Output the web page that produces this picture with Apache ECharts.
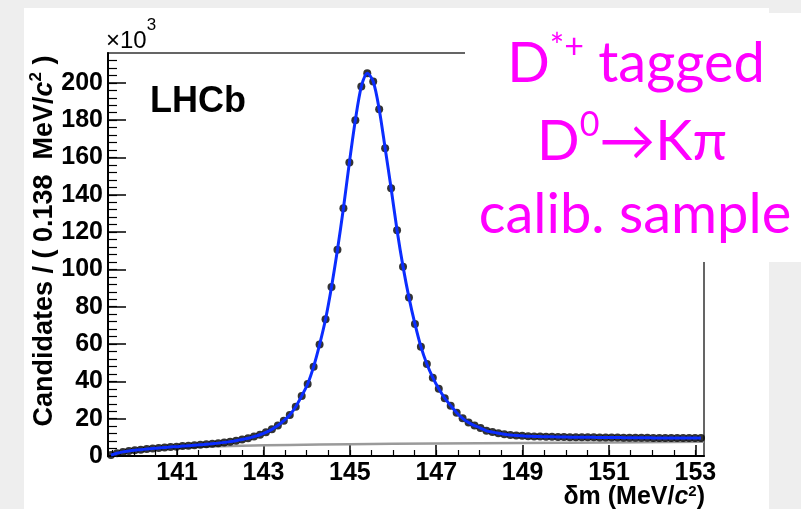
<!DOCTYPE html>
<html>
<head>
<meta charset="utf-8">
<script src="https://cdn.jsdelivr.net/npm/echarts@6/dist/echarts.min.js"></script>
<style>
  html, body { margin: 0; padding: 0; background: #eeeeee; }
  #panel { position: absolute; left: 24px; top: 8px; width: 745px; height: 501px; background: #fff; }
  #main { position: absolute; left: 0; top: 0; width: 801px; height: 509px; }
</style>
</head>
<body>
<div id="panel"></div>
<div id="main"></div>
<script>
// binning of the delta-m histogram (MeV/c^2)
const binLow = 139.4;
const binWidth = 0.138;

// candidates per bin, x10^3
const counts = [
  0.5, 1.5, 2.2, 2.7, 3.1, 3.4, 3.7, 4.0, 4.3, 4.5,
  4.8, 5.0, 5.3, 5.5, 5.8, 6.0, 6.3, 6.6, 6.9, 7.3,
  7.7, 8.2, 8.8, 9.5, 10.4, 11.4, 12.7, 14.3, 16.3, 18.9,
  22.0, 26.4, 32.2, 38.6, 47.9, 59.7, 73.3, 90.6, 110.5, 132.8,
  157.3, 180.0, 198.0, 205.2, 200.7, 185.9, 165.0, 143.5, 121.0, 101.5,
  84.9, 70.8, 58.6, 49.3, 42.0, 36.0, 31.0, 27.0, 23.2, 20.2,
  18.0, 16.3, 15.0, 13.5, 12.8, 12.2, 11.7, 11.3, 11.0, 10.8,
  10.6, 10.5, 10.4, 10.3, 10.3, 10.2, 10.2, 10.1, 10.1, 10.0,
  10.0, 10.0, 9.9, 9.9, 9.9, 9.9, 9.8, 9.8, 9.8, 9.8,
  9.8, 9.7, 9.7, 9.7, 9.7, 9.7, 9.7, 9.6, 9.6, 9.6
];

// background component of the fit
const bgMass  = [139.57, 139.65, 139.8, 140.1, 140.6, 141.5, 142.5, 143.6, 145.0, 147.0, 149.0, 151.0, 153.2];
const bgLevel = [0.0, 1.6, 2.7, 3.5, 4.2, 4.9, 5.5, 5.9, 6.3, 6.7, 7.0, 7.3, 7.6];

const xMajorTicks = [141, 143, 145, 147, 149, 151, 153];
const yMajorTicks = [0, 20, 40, 60, 80, 100, 120, 140, 160, 180, 200];

const xMinorTicks = [];
for (let v = 139.5; v <= 153.01; v += 0.5) xMinorTicks.push(+v.toFixed(1));
const yMinorTicks = [];
for (let v = 4; v <= 214; v += 4) yMinorTicks.push(v);

const points = counts.map((c, i) => [binLow + (i + 0.5) * binWidth, c]);
const bgLine = bgMass.map((m, i) => [m, bgLevel[i]]);

const chart = echarts.init(document.getElementById('main'), null, {renderer: 'canvas'});

const bold = {fontFamily: 'Liberation Sans', fontWeight: 'bold', color: '#000'};
const magenta = '#ff00ff';

const option = {
  animation: false,
  backgroundColor: 'transparent',
  grid: {left: 108, top: 53, right: 97, bottom: 53, show: true, borderColor: '#333', borderWidth: 1.5},
  xAxis: [
    {
      type: 'value', min: 139.4, max: 153.2,
      axisLine: {onZero: false, lineStyle: {color: '#000', width: 2}},
      axisTick: {inside: true, length: 11, customValues: xMajorTicks, lineStyle: {color: '#000', width: 1.5}},
      axisLabel: Object.assign({customValues: xMajorTicks, fontSize: 25, margin: 5}, bold),
      splitLine: {show: false}
    },
    {
      type: 'value', min: 139.4, max: 153.2, position: 'bottom',
      axisLine: {show: false},
      axisTick: {inside: true, length: 6, customValues: xMinorTicks, lineStyle: {color: '#000', width: 1.2}},
      axisLabel: {show: false},
      splitLine: {show: false}
    }
  ],
  yAxis: [
    {
      type: 'value', min: 0, max: 216,
      axisLine: {show: true, onZero: false, lineStyle: {color: '#000', width: 2}},
      axisTick: {show: true, inside: true, length: 18, customValues: yMajorTicks, lineStyle: {color: '#000', width: 1.5}},
      axisLabel: Object.assign({customValues: yMajorTicks, fontSize: 25, margin: 5}, bold),
      splitLine: {show: false}
    },
    {
      type: 'value', min: 0, max: 216, position: 'left',
      axisLine: {show: false},
      axisTick: {show: true, inside: true, length: 9, customValues: yMinorTicks, lineStyle: {color: '#000', width: 1.2}},
      axisLabel: {show: false},
      splitLine: {show: false}
    }
  ],
  series: [
    {
      name: 'background', type: 'line', data: bgLine, smooth: true,
      showSymbol: false, z: 1,
      lineStyle: {color: '#9a9a9a', width: 2.5}
    },
    {
      name: 'data', type: 'scatter', data: points, symbolSize: 8, z: 2,
      itemStyle: {color: '#000'}
    },
    {
      name: 'fit', type: 'line', data: points, smooth: 0.3,
      showSymbol: false, symbol: 'none', z: 3,
      lineStyle: {color: '#0b2dff', width: 3}
    }
  ],
  graphic: [
    {
      type: 'text', left: 150, top: 84, z: 50,
      style: {text: 'LHCb', font: 'bold 36px "Liberation Sans"', fill: '#000'}
    },
    {
      type: 'text', left: 106, top: 17, z: 50,
      style: {
        text: '{m|\u00d710}{s|3}',
        rich: {
          m: {fontFamily: 'Liberation Sans', fontSize: 24, lineHeight: 36, verticalAlign: 'bottom', fill: '#000'},
          s: {fontFamily: 'Liberation Sans', fontSize: 17, lineHeight: 36, verticalAlign: 'top', fill: '#000'}
        }
      }
    },
    {
      type: 'text', x: 43, y: 241, rotation: Math.PI / 2, z: 50,
      style: {
        text: '{b|Candidates / ( 0.138  MeV/}{i|c}{s|2}{b| )}',
        align: 'center', verticalAlign: 'middle',
        rich: {
          b: {fontFamily: 'Liberation Sans', fontWeight: 'bold', fontSize: 27, lineHeight: 30, verticalAlign: 'bottom', fill: '#000'},
          i: {fontFamily: 'Liberation Sans', fontWeight: 'bold', fontStyle: 'italic', fontSize: 27, lineHeight: 30, verticalAlign: 'bottom', fill: '#000'},
          s: {fontFamily: 'Liberation Sans', fontWeight: 'bold', fontSize: 17, lineHeight: 30, verticalAlign: 'top', fill: '#000'}
        }
      }
    },
    {
      type: 'text', x: 705, y: 497, z: 50,
      style: {
        text: '{b|\u03b4m (MeV/}{i|c}{s|2}{b|)}',
        align: 'right', verticalAlign: 'middle',
        rich: {
          b: {fontFamily: 'Liberation Sans', fontWeight: 'bold', fontSize: 25, lineHeight: 26, verticalAlign: 'bottom', fill: '#000'},
          i: {fontFamily: 'Liberation Sans', fontWeight: 'bold', fontStyle: 'italic', fontSize: 25, lineHeight: 26, verticalAlign: 'bottom', fill: '#000'},
          s: {fontFamily: 'Liberation Sans', fontWeight: 'bold', fontSize: 15, lineHeight: 26, verticalAlign: 'top', fill: '#000'}
        }
      }
    },
    {
      type: 'rect', z: 100,
      shape: {x: 465, y: 13, width: 336, height: 249},
      style: {fill: '#fff'}
    },
    {
      type: 'text', x: 636, y: 61, z: 101,
      style: {
        text: '{a|D}{s|*+}{a| tagged}',
        align: 'center', verticalAlign: 'middle',
        rich: {
          a: {fontFamily: 'Lato', fontSize: 56, lineHeight: 62, verticalAlign: 'bottom', fill: magenta},
          s: {fontFamily: 'Lato', fontSize: 34, lineHeight: 62, verticalAlign: 'top', fill: magenta}
        }
      }
    },
    {
      type: 'text', x: 632, y: 139, z: 101,
      style: {
        text: '{a|D}{s|0}{a|\u2192K\u03c0}',
        align: 'center', verticalAlign: 'middle',
        rich: {
          a: {fontFamily: 'Lato', fontSize: 56, lineHeight: 62, verticalAlign: 'bottom', fill: magenta},
          s: {fontFamily: 'Lato', fontSize: 34, lineHeight: 62, verticalAlign: 'top', fill: magenta}
        }
      }
    },
    {
      type: 'text', x: 635, y: 215, z: 101,
      style: {
        text: 'calib. sample',
        align: 'center', verticalAlign: 'middle',
        font: '56px Lato', fill: magenta
      }
    }
  ]
};

chart.setOption(option);
</script>
</body>
</html>
